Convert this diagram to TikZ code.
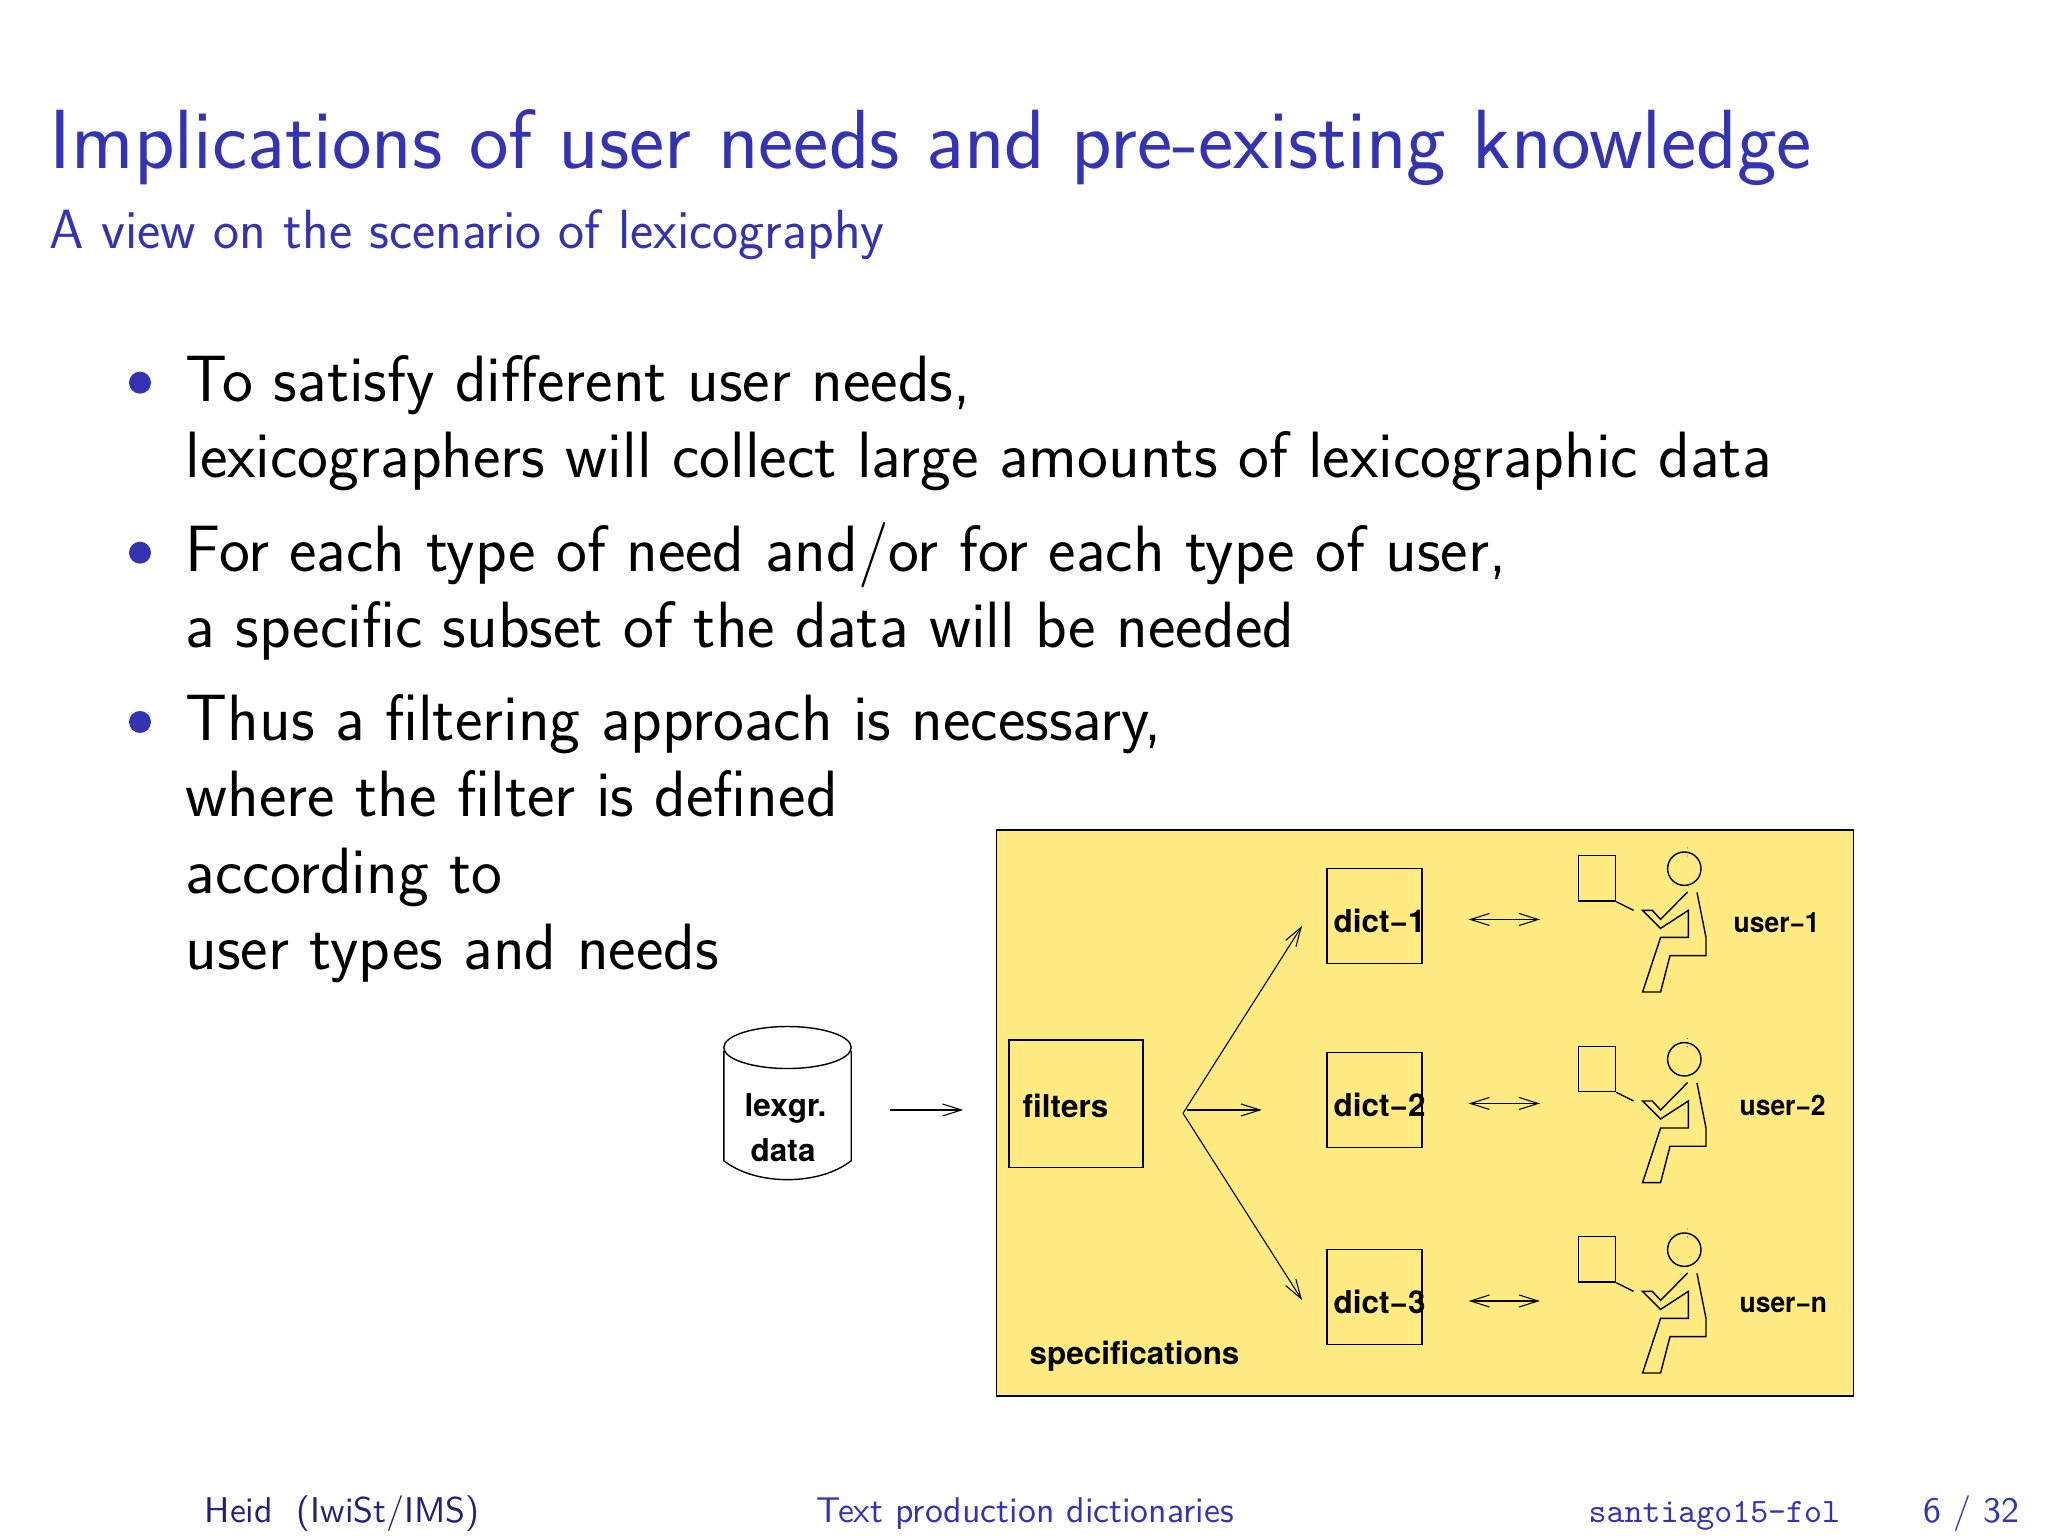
\documentclass[tikz,border=0pt]{standalone}
\usepackage{fontspec}
\newfontfamily\figfont{TeX Gyre Heros}
\newfontfamily\userfont[FakeStretch=0.94]{TeX Gyre Heros}
\usetikzlibrary{arrows.meta}
\definecolor{slideblue}{RGB}{51,51,179}
\definecolor{footblue}{RGB}{34,34,120}
\definecolor{specyellow}{RGB}{255,235,130}
\tikzset{
    thinline/.style={line width=0.4pt},
    fwd/.style={line width=0.3pt, -{Straight Barb[length=0.19cm,width=0.12cm]}},
    both/.style={line width=0.3pt, {Straight Barb[length=0.19cm,width=0.12cm]}-{Straight Barb[length=0.19cm,width=0.12cm]}},
    boxlabel/.style={anchor=base west, inner sep=0pt, font=\figfont\bfseries\fontsize{8.95}{11}\selectfont},
    userlabel/.style={anchor=base west, inner sep=0pt, font=\userfont\bfseries\fontsize{8}{10}\selectfont},
    item/.style={anchor=north west, align=left, inner sep=0pt, font=\sffamily\fontsize{18.64}{21.68}\selectfont},
    itemdot/.style={circle, fill=slideblue, inner sep=0pt, minimum size=0.22cm},
    dictbox/.style={draw, thinline, minimum width=0.95cm, minimum height=0.95cm, inner sep=0pt},
    foot/.style={anchor=base west, inner sep=0pt, text=slideblue, font=\sffamily\fontsize{10.18}{13}\selectfont},
    reader/.pic={
        \node (-sheet) at (-0.872, -0.097) [draw, thinline, minimum width=0.37cm, minimum height=0.453cm, inner sep=0pt] {};
        \node (-head) at (0, 0) [draw, thinline, circle, minimum size=0.334cm, inner sep=0pt] {};
        \coordinate (-hand) at (-0.507, -0.417);
        \draw[thinline] (-sheet.south east) -- (-hand);
        \draw[thinline] (0.033, -0.233) -- (-0.237, -0.507) -- (-0.32, -0.417) -- (-0.417, -0.417)
            -- (-0.237, -0.597) -- (0.04, -0.417) -- (0.04, -0.687) -- (-0.237, -0.687)
            -- (-0.417, -1.233) -- (-0.237, -1.233) -- (-0.143, -0.87) -- (0.217, -0.87)
            -- (0.217, -0.687) -- (0.127, -0.237);
        \fill (0.033, 0.207) circle (0.004);
        \fill (0.033, 0.127) circle (0.004);
    }
}
\begin{document}
\begin{tikzpicture}
    \useasboundingbox (0, 0) rectangle (20.48, 15.36);

    % title and bullets
    \node (title) at (0.49, 13.67) [anchor=base west, inner sep=0pt, text=slideblue, font=\sffamily\fontsize{23.9}{28}\selectfont] {Implications of user needs and pre-existing knowledge};
    \node (subtitle) at (0.49, 12.87) [anchor=base west, inner sep=0pt, text=slideblue, font=\sffamily\fontsize{15.72}{19}\selectfont] {A view on the scenario of lexicography};

    \node (dot1) at (1.4, 11.533) [itemdot] {};
    \node (dot2) at (1.4, 9.833) [itemdot] {};
    \node (dot3) at (1.4, 8.14) [itemdot] {};
    \node (item1) at (1.85, 11.813) [item] {To satisfy different user needs,\\lexicographers will collect large amounts of lexicographic data};
    \node (item2) at (1.85, 10.145) [item] {For each type of need and/or for each type of user,\\a specific subset of the data will be needed};
    \node (item3) at (1.85, 8.42) [item] {Thus a filtering approach is necessary,\\where the filter is defined\\according to\\user types and needs};

    % figure
    \node (spec) at (14.25, 4.23) [draw, thinline, fill=specyellow, minimum width=8.574cm, minimum height=5.66cm, inner sep=0pt] {};
    \node (speclabel) at (10.29, 1.71) [boxlabel] {specifications};

    \node (lexgr) at (7.875, 4.324) [minimum width=1.274cm, minimum height=1.527cm, inner sep=0pt] {};
    \draw[thinline] (lexgr.north) ++(0, -0.21) ellipse (0.637 and 0.21);
    \draw[thinline] (7.238, 4.85) -- (7.238, 3.753) .. controls (7.555, 3.5) and (8.195, 3.5) .. (8.512, 3.753) -- (8.512, 4.85);
    \node (lexgrlabel) at (7.44, 4.19) [boxlabel] {lexgr.};
    \node (datalabel) at (7.5, 3.745) [boxlabel] {data};
    \node (filters) at (10.76, 4.324) [draw, thinline, minimum width=1.34cm, minimum height=1.273cm, inner sep=0pt] {};
    \node (filterlabel) at (10.22, 4.185) [boxlabel] {filters};

    \node (dict1) at (13.745, 6.197) [dictbox] {};
    \node (dict2) at (13.745, 4.36) [dictbox] {};
    \node (dict3) at (13.745, 2.39) [dictbox] {};
    \node (dict1label) at (13.33, 6.03) [boxlabel] {dict\textminus 1};
    \node (dict2label) at (13.33, 4.19) [boxlabel] {dict\textminus 2};
    \node (dict3label) at (13.33, 2.22) [boxlabel] {dict\textminus 3};

    \pic (user1) at (16.843, 6.673) {reader};
    \pic (user2) at (16.843, 4.767) {reader};
    \pic (user3) at (16.843, 2.863) {reader};
    \node (user1label) at (17.33, 6.03) [userlabel] {user\textminus 1};
    \node (user2label) at (17.39, 4.2) [userlabel] {user\textminus 2};
    \node (user3label) at (17.39, 2.23) [userlabel] {user\textminus n};

    \coordinate (fanroot) at (11.83, 4.227);
    \coordinate (fantop) at (13.02, 6.1);
    \coordinate (fanbot) at (13.02, 2.36);
    \coordinate (midline) at (11.87, 4.26);
    \coordinate (link1) at (15.0, 6.165);
    \coordinate (link2) at (15.0, 4.325);
    \coordinate (link3) at (15.0, 2.35);

    \draw[fwd, shorten <=0.38cm, shorten >=0.45cm] (lexgr.east |- midline) -- (filters.west |- midline);
    \draw[fwd] (fanroot) -- (fantop);
    \draw[fwd] (fanroot) -- (fanbot);
    \draw[fwd, shorten >=0.645cm] (midline) -- (dict2.west |- midline);
    \draw[both, shorten <=0.46cm, shorten >=0.38cm] (dict1.east |- link1) -- (user1-sheet.west |- link1);
    \draw[both, shorten <=0.46cm, shorten >=0.38cm] (dict2.east |- link2) -- (user2-sheet.west |- link2);
    \draw[both, shorten <=0.46cm, shorten >=0.38cm] (dict3.east |- link3) -- (user3-sheet.west |- link3);

    % footer
    \node (footleft) at (2.04, 0.13) [foot, text=footblue] {Heid\ \ (IwiSt/IMS)};
    \node (footmid) at (8.16, 0.13) [foot] {Text production dictionaries};
    \node (footright) at (15.88, 0.13) [foot, font=\ttfamily\fontsize{9.73}{13}\selectfont] {santiago15-fol};
    \node (footpage) at (20.2, 0.13) [foot, anchor=base east] {6 / 32};
\end{tikzpicture}
\end{document}
